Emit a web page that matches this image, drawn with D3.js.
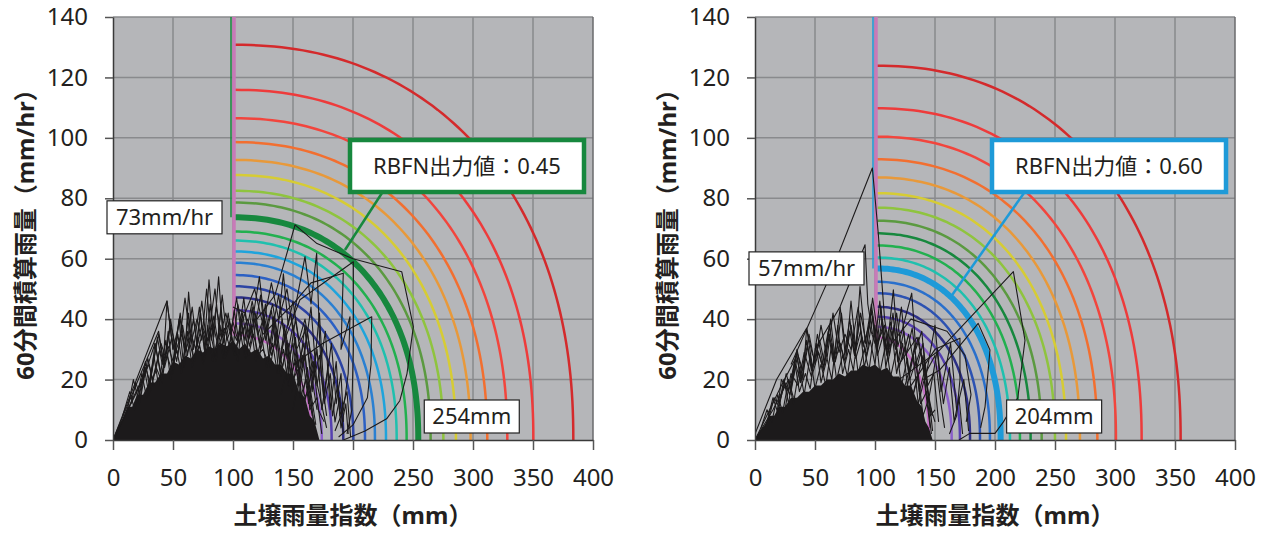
<!DOCTYPE html>
<html>
<head>
<meta charset="utf-8">
<script src="https://cdn.jsdelivr.net/npm/d3@7"></script>
<style>
body { margin: 0; background: #fff; }
svg { display: block; }
</style>
</head>
<body>
<div id="chart"></div>
<script>
// axis ticks
const xTicks = [0, 50, 100, 150, 200, 250, 300, 350, 400];
const yTicks = [0, 20, 40, 60, 80, 100, 120, 140];

// contour lines, outer -> inner (start height at x=100, end at y=0)
const p1YStart = [130.8, 115.9, 106.5, 98.6, 92.7, 87.7, 82.5, 78.6, 73.7, 69.0, 66.0, 62.4, 58.7, 54.6, 50.9, 47.2, 43.0, 38.6, 34.8];
const p1XEnd = [383.6, 350.3, 328.6, 311.9, 298.0, 285.8, 275.3, 264.7, 254.4, 244.7, 236.4, 227.5, 218.3, 210.0, 200.3, 191.9, 182.2, 174.0, 165.6];
const p1Colors = ["#d42a2c", "#ee3b3b", "#f2453d", "#f26f30", "#e8993a", "#d6cc34", "#8fc43e", "#5b9a40", "#17883e", "#22b04f", "#1fc0ae", "#1ea4dc", "#2a80d2", "#2c60c4", "#2c44a4", "#2c2f86", "#5540b0", "#8a5fca", "#c56fc6"];
const p1Thick = 8;

const p2YStart = [123.9, 109.8, 100.4, 92.9, 86.9, 81.7, 76.9, 72.6, 68.4, 64.4, 60.4, 56.8, 52.4, 48.6, 44.1, 40.8, 37.5, 34.0];
const p2XEnd = [354.7, 322.2, 300.8, 285.3, 270.8, 259.2, 250.0, 238.9, 229.7, 220.8, 212.5, 204.7, 195.8, 187.5, 179.2, 170.8, 163.9, 145.0];
const p2Colors = ["#d42a2c", "#ee3b3b", "#f2453d", "#f26f30", "#e8993a", "#d6cc34", "#8fc43e", "#5b9a40", "#17883e", "#22b04f", "#1fc0ae", "#1e9ad8", "#2a70cc", "#2c52b2", "#2c2f86", "#5540b0", "#8a5fca", "#c56fc6"];
const p2Thick = 11;

// dense black area of snake lines
const p1Core = [[0,0],[4,4],[8,7],[12,11],[16,11],[20,15],[25,15],[30,19],[35,19],[40,22],[45,22],[50,26],[55,25],[60,28],[65,27],[70,30],[75,29],[80,31],[85,30],[90,32],[95,31],[100,33],[105,30],[110,32],[115,29],[120,30],[125,27],[130,28],[135,25],[140,25],[145,22],[150,22],[155,16],[160,14],[164,8],[168,6],[172,0]];
const p2Core = [[0,0],[4,3],[8,5],[12,8],[16,8],[20,11],[25,11],[30,14],[35,14],[40,16],[45,16],[50,18],[55,18],[60,20],[65,20],[70,22],[75,21],[80,23],[85,23],[90,25],[95,24],[100,25],[105,23],[110,24],[115,21],[120,21],[125,18],[130,18],[135,13],[139,11],[142,6],[145,4],[148,0]];

// snake lines
const p1Tracks = [
  [[0,0],[45,46],[50,30]],
  [[0,0],[38,36],[42,26]],
  [[0,0],[25,20],[35,32],[40,22]],
  [[0,0],[30,25],[34,18]],
  [[8,8],[14,16],[18,10],[24,22],[28,14],[34,28],[38,18],[44,33],[48,20],[53,30],[57,22],[62,36],[66,24],[71,34],[75,25],[79,38],[83,26],[88,35],[92,27],[97,40],[101,28],[106,36],[110,27],[115,38],[119,26],[124,34],[128,24],[133,32],[137,22],[142,30],[146,18],[152,26],[156,14],[161,20],[166,8]],
  [[12,10],[17,20],[22,12],[27,26],[31,16],[36,24],[41,19],[46,36],[50,22],[55,40],[59,24],[64,32],[68,26],[73,42],[77,28],[81,36],[86,26],[90,44],[94,29],[99,34],[104,26],[108,42],[113,28],[117,35],[122,27],[126,40],[131,24],[136,36],[140,21],[145,33],[149,16],[154,28],[158,10],[163,18],[168,4]],
  [[20,12],[26,24],[30,15],[35,32],[40,21],[45,28],[49,23],[54,35],[58,24],[63,42],[67,27],[72,31],[76,26],[81,45],[85,28],[89,38],[93,27],[98,31],[102,28],[107,40],[111,27],[116,44],[120,28],[125,30],[129,26],[134,41],[138,22],[143,38],[147,18],[153,30],[157,12],[162,24],[167,6]],
  [[30,18],[38,35],[42,26],[45,46],[50,30],[56,40],[60,28],[63,49],[67,30],[72,44],[76,30],[80,53],[84,34],[88,54],[92,32],[96,42],[100,30],[104,45],[110,33],[116,46],[121,35],[126,41],[131,32],[138,48],[143,34],[148,42],[153,30],[160,36],[166,20],[170,10]],
  [[40,20],[48,38],[54,28],[60,47],[65,32],[70,40],[74,33],[78,50],[82,33],[86,44],[91,34],[97,39],[103,33],[110,42],[114,34],[122,54],[127,36],[133,45],[137,35],[142,55],[146,38],[150,46],[155,33],[160,40],[165,28],[172,15],[178,4]],
  [[15,12],[19,19],[23,14],[29,27],[33,20],[39,30],[43,24],[49,34],[53,26],[58,38],[62,28],[67,40],[71,30],[75,36],[79,30],[84,41],[88,31],[93,37],[97,31],[101,43],[105,32],[110,38],[114,31],[119,42],[123,30],[128,37],[132,28],[137,35],[141,24],[146,32],[150,20],[155,24],[160,14],[164,18],[169,5]],
  [[22,15],[27,24],[31,19],[37,34],[41,25],[46,31],[50,26],[56,42],[60,29],[65,35],[69,30],[74,46],[78,32],[83,39],[87,32],[91,48],[95,33],[100,39],[104,33],[109,47],[113,33],[118,40],[122,32],[127,45],[131,29],[135,39],[139,26],[144,36],[148,22],[152,34],[156,18],[160,28],[164,10],[170,14],[174,2]],
  [[35,22],[40,32],[44,27],[48,40],[52,29],[57,35],[61,30],[66,44],[70,31],[74,38],[79,33],[85,50],[89,34],[94,42],[98,35],[103,47],[107,35],[112,40],[117,34],[123,48],[127,33],[132,43],[136,30],[141,40],[145,27],[150,38],[154,24],[159,32],[163,18],[167,26],[171,10],[176,6]],
  [[140,15],[150,32],[155,18],[162,36],[167,20],[172,28],[176,12],[181,22],[185,6],[189,14],[192,2]],
  [[145,20],[152,40],[158,24],[165,44],[170,18],[177,36],[181,10],[186,26],[189,8],[195,16],[198,1]],
  [[120,40],[135,48],[151.7,71.2],[170,65],[200,60],[240.6,55.7],[250.3,37.5],[245,22],[239,13],[228,7],[210,3],[192,0]],
  [[125,35],[150,45],[165,52],[191.9,55.2],[190,30],[197.5,40.8],[196,22],[192,10],[185,3]],
  [[140,30],[155.8,46.4],[200.3,59],[200.3,30],[199,10],[195,2]],
  [[150,25],[175,32],[215.6,40.8],[215,25],[212,14],[200,5],[188,1]],
  [[150,40],[160,60.7],[165,45],[169.7,61.8],[172,35],[174,20],[178,8]],
  [[150,10],[158,28],[163,12],[170,30],[174,10],[179,24],[183,8],[187,18],[190,4],[194,12],[196,2]],
  [[155,22],[160,38],[166,16],[172,42],[176,14],[182,32],[186,12],[190,22],[192,6]],
  [[100,44],[110,42],[118,50],[125,38],[132,52],[138,40],[145,50],[150,36]]
];
const p2Tracks = [
  [[0,2],[18,20],[43,37],[48,28]],
  [[0,0],[22,18],[35,28],[38,20]],
  [[0,0],[15,10],[28,20],[32,14]],
  [[5,4],[10,10],[14,6],[19,15],[23,9],[28,20],[32,12],[37,24],[41,15],[46,28],[50,17],[55,25],[59,18],[64,32],[68,20],[73,28],[77,21],[82,35],[86,22],[91,30],[95,23],[100,38],[104,22],[109,32],[113,21],[118,30],[122,18],[127,27],[131,14],[136,22],[140,8],[145,14],[148,3]],
  [[10,6],[15,14],[19,9],[24,20],[28,12],[33,26],[37,16],[42,22],[46,17],[51,32],[55,19],[60,27],[64,20],[69,38],[73,22],[78,30],[82,23],[87,40],[91,24],[96,33],[100,25],[105,44],[109,24],[114,36],[118,22],[123,32],[127,18],[132,28],[136,12],[141,20],[146,4]],
  [[18,8],[22,20],[28,16],[35,30],[40,20],[43,37],[48,24],[54,33],[58,25],[63,40],[67,26],[72,42],[76,28],[80,46],[84,30],[87.5,50.8],[92,32],[97,45],[102,30],[106,40],[110,30],[115.3,49.7],[119,31],[125,40],[130.6,48.6],[134,30],[139,36],[143,18],[148,8]],
  [[25,10],[30,22],[36,18],[41,29],[47,21],[52,35],[57,24],[62,38],[66,27],[71,44],[75,29],[79,36],[83,28],[88,42],[93,31],[98,47],[103,33],[108,38],[112,28],[118,42],[123,27],[128,35],[133,24],[138,30],[143,15],[150,6]],
  [[12,8],[16,14],[20,11],[26,22],[30,16],[35,27],[39,20],[44,31],[48,22],[53,29],[57,23],[62,35],[66,25],[71,32],[75,26],[80,38],[84,27],[89,34],[93,28],[98,41],[102,28],[107,35],[111,26],[116,38],[120,24],[125,31],[129,20],[134,26],[138,12],[143,16],[147,2]],
  [[20,12],[25,19],[29,15],[34,25],[38,19],[43,33],[47,23],[52,30],[56,25],[61,36],[65,26],[70,33],[74,27],[79,40],[83,28],[88,36],[92,29],[97,43],[101,30],[106,37],[110,28],[115,42],[119,26],[124,36],[128,22],[133,31],[137,16],[142,24],[146,8],[150,10]],
  [[30,18],[35,29],[40,23],[45,35],[50,25],[55,38],[60,27],[65,42],[70,29],[75,35],[80,30],[86,44],[90,31],[95,38],[100,32],[104,46],[108,31],[113,39],[117,30],[122,44],[126,28],[131,37],[135,24],[140,32],[144,18],[149,22],[153,6]],
  [[130,12],[140,28],[145,14],[152,30],[157,12],[162,24],[166,6],[170,14],[173,2]],
  [[125,18],[136,34],[142,20],[150,38],[155,16],[163,32],[168,10],[174,20],[178,3]],
  [[30,25],[60,52],[97.8,90],[102.8,68],[105.6,53],[108,40],[112,30]],
  [[50,30],[70.8,44],[91.7,64.6],[94,45],[98,35]],
  [[120,20],[154,29.8],[215.3,55.7],[225,33],[219,14],[207,6],[200,2.2],[179,2.2],[170,0]],
  [[140,20],[154,23.2],[186,38.6],[195.8,29.8],[191.7,11],[188,4]],
  [[130,18],[150,30],[170.8,33.7],[170.8,20],[168,8],[162,2]],
  [[110,30],[130,40],[160,36],[175,28],[180,15],[176,6]],
  [[120,25],[135,34],[142,22],[150,28],[155,12],[158,4]]
];

// annotations
const rbfnLabels = ["RBFN出力値：0.45", "RBFN出力値：0.60"];
const rateLabels = ["73mm/hr", "57mm/hr"];
const sumLabels = ["254mm", "204mm"];
const leaderEnds = [[193.3, 62.9], [162.5, 47.0]];

const panels = [
  {left: 113, yStart: p1YStart, xEnd: p1XEnd, colors: p1Colors, thick: p1Thick, core: p1Core, tracks: p1Tracks},
  {left: 755, yStart: p2YStart, xEnd: p2XEnd, colors: p2Colors, thick: p2Thick, core: p2Core, tracks: p2Tracks}
];

const W = 1265, H = 533;
const plotTop = 17, iw = 480, ih = 423;
const font = "'Noto Sans', 'Noto Sans CJK JP', sans-serif";

const svg = d3.select("#chart").append("svg")
    .attr("width", W)
    .attr("height", H);

svg.append("rect")
    .attr("width", W)
    .attr("height", H)
    .attr("fill", "#fff");

const x = d3.scaleLinear().domain([0, 400]).range([0, iw]);
const y = d3.scaleLinear().domain([0, 140]).range([ih, 0]);

// quarter-ellipse shaped contour from (100, ys) to (xe, 0)
function contourPts(ys, xe) {
    const n = 2.2;
    return d3.range(0, 81).map(i => {
        const t = i / 80 * Math.PI / 2;
        return [100 + (xe - 100) * Math.pow(Math.cos(t), 2 / n), ys * Math.pow(Math.sin(t), 2 / n)];
    });
}

const line = d3.line().x(d => x(d[0])).y(d => y(d[1]));

panels.forEach((p, pi) => {
    const g = svg.append("g").attr("transform", `translate(${p.left},${plotTop})`);

    svg.append("clipPath").attr("id", "clip" + pi)
        .append("rect").attr("width", iw).attr("height", ih);

    // plot background
    g.append("rect")
        .attr("width", iw)
        .attr("height", ih)
        .attr("fill", "#b5b6b9");

    // grid
    g.selectAll(".vgrid").data(xTicks.filter(d => d > 0 && d < 400)).enter()
        .append("line")
        .attr("x1", d => x(d)).attr("x2", d => x(d))
        .attr("y1", 0).attr("y2", ih)
        .attr("stroke", "#898a8d")
        .attr("stroke-width", 1.5);
    g.selectAll(".hgrid").data(yTicks.filter(d => d > 0)).enter()
        .append("line")
        .attr("x1", 0).attr("x2", iw)
        .attr("y1", d => y(d)).attr("y2", d => y(d))
        .attr("stroke", "#898a8d")
        .attr("stroke-width", 1.5);

    // right frame
    g.append("line")
        .attr("x1", iw).attr("x2", iw)
        .attr("y1", 0).attr("y2", ih)
        .attr("stroke", "#6a6a6c")
        .attr("stroke-width", 1.5);

    const plot = g.append("g").attr("clip-path", `url(#clip${pi})`);

    // contours
    plot.selectAll(".contour").data(p.yStart).enter()
        .append("path")
        .attr("d", (d, i) => line(contourPts(d, p.xEnd[i])))
        .attr("fill", "none")
        .attr("stroke", (d, i) => p.colors[i])
        .attr("stroke-width", (d, i) => i === p.thick ? 6 : 2.5);

    // vertical lines at x = 100
    const pink = p.yStart[p.yStart.length - 1];
    plot.append("line")
        .attr("x1", x(100) - 2).attr("x2", x(100) - 2)
        .attr("y1", 0).attr("y2", y(p.yStart[p.thick]))
        .attr("stroke", p.colors[p.thick])
        .attr("stroke-width", 1.5);
    plot.append("line")
        .attr("x1", x(100) + 1).attr("x2", x(100) + 1)
        .attr("y1", 0).attr("y2", y(pink))
        .attr("stroke", "#c87ab8")
        .attr("stroke-width", 3.5);

    // snake lines
    plot.append("path")
        .attr("d", line(p.core) + "Z")
        .attr("fill", "#1c1a1b");
    plot.selectAll(".track").data(p.tracks).enter()
        .append("path")
        .attr("d", d => line(d))
        .attr("fill", "none")
        .attr("stroke", "#1c1a1b")
        .attr("stroke-width", 1.1)
        .attr("stroke-linejoin", "round");

    // axes
    const ax = g.append("g")
        .attr("transform", `translate(0,${ih})`)
        .call(d3.axisBottom(x).tickValues(xTicks).tickSize(10).tickPadding(19).tickSizeOuter(0));
    const ay = g.append("g")
        .call(d3.axisLeft(y).tickValues(yTicks).tickSize(8).tickPadding(17).tickSizeOuter(0));
    [ax, ay].forEach(a => {
        a.select(".domain").attr("stroke", "#3a3a3a").attr("stroke-width", 1.5);
        a.selectAll(".tick line").attr("stroke", "#555").attr("stroke-width", 1.5);
        a.selectAll("text")
            .attr("font-family", font)
            .attr("font-size", "24px")
            .attr("fill", "#231f20");
    });

    // axis titles
    g.append("text")
        .attr("x", iw / 2)
        .attr("y", ih + 84)
        .attr("font-family", font)
        .attr("font-size", "24px")
        .attr("font-weight", "bold")
        .attr("text-anchor", "middle")
        .attr("fill", "#231f20")
        .text("土壌雨量指数（mm）");
    g.append("text")
        .attr("transform", `translate(-88,${ih / 2}) rotate(-90)`)
        .attr("dy", "0.36em")
        .attr("font-family", font)
        .attr("font-size", "24px")
        .attr("font-weight", "bold")
        .attr("text-anchor", "middle")
        .attr("fill", "#231f20")
        .text("60分間積算雨量（mm/hr）");

    // annotation: rate at x=100
    const thickCol = p.colors[p.thick];
    const ry = y(p.yStart[p.thick]);
    g.append("rect")
        .attr("x", x(100) - 11 - 115)
        .attr("y", ry - 16.5)
        .attr("width", 115)
        .attr("height", 33)
        .attr("fill", "#fff")
        .attr("stroke", "#222")
        .attr("stroke-width", 1.2);
    g.append("text")
        .attr("x", x(100) - 11 - 57.5)
        .attr("y", ry)
        .attr("dy", "0.36em")
        .attr("font-family", font)
        .attr("font-size", "22px")
        .attr("text-anchor", "middle")
        .attr("fill", "#231f20")
        .text(rateLabels[pi]);

    // annotation: soil index at y=0
    const sx = x(p.xEnd[p.thick]);
    g.append("rect")
        .attr("x", sx + 6)
        .attr("y", ih - 40)
        .attr("width", 95)
        .attr("height", 33)
        .attr("fill", "#fff")
        .attr("stroke", "#222")
        .attr("stroke-width", 1.2);
    g.append("text")
        .attr("x", sx + 6 + 47.5)
        .attr("y", ih - 23.5)
        .attr("dy", "0.36em")
        .attr("font-family", font)
        .attr("font-size", "22px")
        .attr("text-anchor", "middle")
        .attr("fill", "#231f20")
        .text(sumLabels[pi]);

    // RBFN callout
    const le = leaderEnds[pi];
    g.append("line")
        .attr("x1", 269).attr("y1", 176)
        .attr("x2", x(le[0])).attr("y2", y(le[1]))
        .attr("stroke", thickCol)
        .attr("stroke-width", 2.5);
    g.append("rect")
        .attr("x", 237)
        .attr("y", 123)
        .attr("width", 234)
        .attr("height", 52)
        .attr("fill", "#fff")
        .attr("stroke", thickCol)
        .attr("stroke-width", 4.5);
    g.append("text")
        .attr("x", 237 + 117)
        .attr("y", 149)
        .attr("dy", "0.36em")
        .attr("font-family", font)
        .attr("font-size", "22px")
        .attr("text-anchor", "middle")
        .attr("fill", "#231f20")
        .text(rbfnLabels[pi]);
});
</script>
</body>
</html>
